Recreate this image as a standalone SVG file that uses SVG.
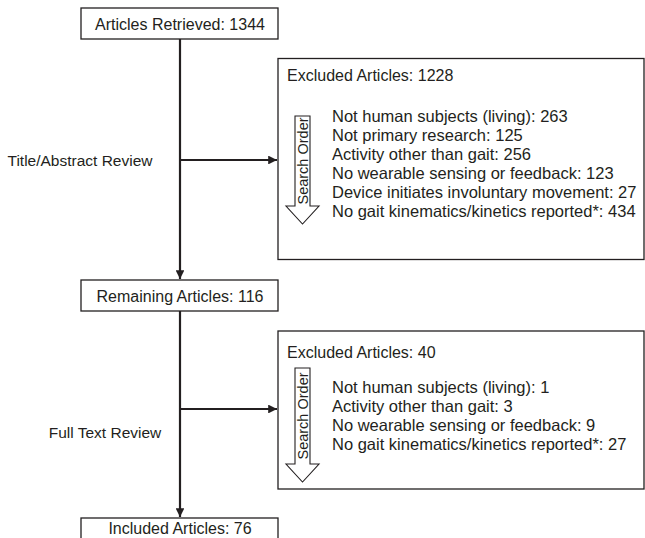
<svg xmlns="http://www.w3.org/2000/svg" width="645" height="538" viewBox="0 0 645 538">
  <style>
    .box { fill: #ffffff; stroke: #231f20; stroke-width: 1.3; }
    .line { fill: none; stroke: #231f20; stroke-width: 2.2; }
    .order { fill: #ffffff; stroke: #231f20; stroke-width: 1.1; }
    text { font-family: "Liberation Sans", Arial, sans-serif; font-size: 16.5px; fill: #231f20; }
    .mid { text-anchor: middle; }
    .vert { font-size: 14.5px; }
    .stage { font-size: 15.5px; }
    .title { font-size: 16px; }
  </style>
  <defs>
    <marker id="head" viewBox="0 0 10 10" refX="10" refY="5" markerWidth="4" markerHeight="4" markerUnits="strokeWidth" orient="auto">
      <path d="M0,0 L10,5 L0,10 z" fill="#231f20"/>
    </marker>
  </defs>

  <!-- connectors -->
  <g id="connectors">
    <path class="line" d="M180,39 V279" marker-end="url(#head)"/>
    <path class="line" d="M180,160 H277" marker-end="url(#head)"/>
    <path class="line" d="M180,311 V517" marker-end="url(#head)"/>
    <path class="line" d="M180,409 H277" marker-end="url(#head)"/>
  </g>

  <!-- stage labels -->
  <g id="stage-labels">
    <text x="80" y="165.5" class="mid stage">Title/Abstract Review</text>
    <text x="105" y="437.5" class="mid stage">Full Text Review</text>
  </g>

  <g id="retrieved">
    <rect class="box" x="81" y="8" width="197" height="31"/>
    <text x="180" y="29.5" class="mid title">Articles Retrieved: 1344</text>
  </g>

  <g id="excluded-1">
    <rect class="box" x="278" y="58.5" width="366" height="201"/>
    <text x="287" y="81" class="title">Excluded Articles: 1228</text>
    <path class="order" d="M295,116 H310 V206 H319 L302.5,224 L286,206 H295 z"/>
    <text transform="translate(307.5,161) rotate(-90)" class="mid vert">Search Order</text>
    <text x="332" y="122">Not human subjects (living): 263</text>
    <text x="332" y="141">Not primary research: 125</text>
    <text x="332" y="160">Activity other than gait: 256</text>
    <text x="332" y="179">No wearable sensing or feedback: 123</text>
    <text x="332" y="198">Device initiates involuntary movement: 27</text>
    <text x="332" y="217">No gait kinematics/kinetics reported*: 434</text>
  </g>

  <g id="remaining">
    <rect class="box" x="81" y="280" width="197" height="31"/>
    <text x="180" y="301.5" class="mid title">Remaining Articles: 116</text>
  </g>

  <g id="excluded-2">
    <rect class="box" x="278" y="331" width="366" height="158"/>
    <text x="287" y="358" class="title">Excluded Articles: 40</text>
    <path class="order" d="M295,368 H310 V464 H319 L302.5,482 L286,464 H295 z"/>
    <text transform="translate(307.5,416) rotate(-90)" class="mid vert">Search Order</text>
    <text x="332" y="393">Not human subjects (living): 1</text>
    <text x="332" y="412">Activity other than gait: 3</text>
    <text x="332" y="431">No wearable sensing or feedback: 9</text>
    <text x="332" y="450">No gait kinematics/kinetics reported*: 27</text>
  </g>

  <g id="included">
    <rect class="box" x="81" y="518" width="197" height="30"/>
    <text x="180" y="533.5" class="mid title">Included Articles: 76</text>
  </g>
</svg>
